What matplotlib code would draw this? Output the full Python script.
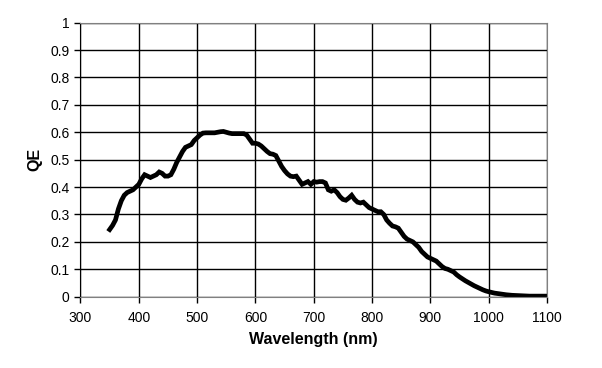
import numpy as np
import matplotlib
matplotlib.use("Agg")
import matplotlib.pyplot as plt

plt.rcParams['font.family'] = ['Liberation Sans', 'DejaVu Sans']

# wavelength (nm) and quantum efficiency
wavelength = [350, 355, 360, 365, 370, 375, 380, 385, 390, 395,
              400, 405, 410, 415, 420, 425, 430, 435, 440, 445,
              450, 455, 460, 465, 470, 475, 480, 485, 490, 495,
              500, 505, 510, 515, 520, 525, 530, 535, 540, 545,
              550, 555, 560, 565, 570, 575, 580, 585, 590, 595,
              600, 605, 610, 615, 620, 625, 630, 635, 640, 645,
              650, 655, 660, 665, 670, 675, 680, 685, 690, 695,
              700, 705, 710, 715, 720, 725, 730, 735, 740, 745,
              750, 755, 760, 765, 770, 775, 780, 785, 790, 795,
              800, 805, 810, 815, 820, 825, 830, 835, 840, 845,
              850, 855, 860, 865, 870, 875, 880, 885, 890, 895,
              900, 905, 910, 915, 920, 925, 930, 935, 940, 945,
              950, 955, 960, 965, 970, 975, 980, 985, 990, 995,
              1000, 1010, 1020, 1030, 1040, 1050, 1060, 1070, 1080, 1090, 1100]
qe = [0.245, 0.26, 0.28, 0.32, 0.35, 0.37, 0.38, 0.385, 0.39, 0.40,
      0.41, 0.43, 0.445, 0.44, 0.435, 0.44, 0.445, 0.455, 0.45, 0.44,
      0.44, 0.445, 0.465, 0.49, 0.51, 0.53, 0.545, 0.55, 0.555, 0.57,
      0.58, 0.59, 0.597, 0.598, 0.598, 0.598, 0.598, 0.60, 0.602, 0.603,
      0.60, 0.597, 0.595, 0.595, 0.595, 0.595, 0.595, 0.59, 0.575, 0.56,
      0.56, 0.557, 0.55, 0.54, 0.53, 0.522, 0.52, 0.515, 0.495, 0.475,
      0.46, 0.448, 0.44, 0.438, 0.44, 0.425, 0.41, 0.415, 0.42, 0.41,
      0.42, 0.418, 0.42, 0.42, 0.415, 0.39, 0.385, 0.39, 0.38, 0.365,
      0.355, 0.352, 0.36, 0.37, 0.355, 0.345, 0.342, 0.345, 0.335, 0.325,
      0.32, 0.315, 0.31, 0.31, 0.30, 0.28, 0.268, 0.258, 0.255, 0.25,
      0.235, 0.22, 0.21, 0.205, 0.20, 0.19, 0.18, 0.165, 0.155, 0.145,
      0.14, 0.135, 0.13, 0.12, 0.11, 0.103, 0.10, 0.095, 0.09, 0.08,
      0.072, 0.065, 0.058, 0.052, 0.046, 0.04, 0.035, 0.03, 0.025, 0.021,
      0.018, 0.013, 0.010, 0.007, 0.005, 0.004, 0.003, 0.002, 0.002, 0.002, 0.002]

fig = plt.figure(figsize=(6.02, 3.68), dpi=100)
ax = fig.add_axes([0.1337, 0.1938, 0.775, 0.7446])

ax.plot(wavelength, qe, color='black', linewidth=3.4, solid_joinstyle='miter')

ax.set_xlim(300, 1100)
ax.set_ylim(0, 1)
ax.set_xticks(np.arange(300, 1101, 100))
ax.set_yticks(np.arange(0, 1.01, 0.1))
ax.set_yticklabels(['0', '0.1', '0.2', '0.3', '0.4', '0.5', '0.6', '0.7', '0.8', '0.9', '1'])
ax.grid(True, color='black', linewidth=1.0)
ax.set_axisbelow(True)

for s in ['top', 'right', 'bottom']:
    ax.spines[s].set_color('#808080')
ax.spines['left'].set_color('black')
ax.tick_params(direction='out', length=4, width=1, labelsize=10, colors='black', pad=4)
ax.tick_params(axis='x', pad=6)

ax.set_xlabel('Wavelength (nm)', fontsize=11.5, fontweight='bold', va='center')
ax.set_ylabel('QE', fontsize=11.5, fontweight='bold', va='center')
ax.xaxis.set_label_coords(0.5, -0.158)
ax.yaxis.set_label_coords(-0.0975, 0.5)

fig.savefig('out.png', dpi=100)
